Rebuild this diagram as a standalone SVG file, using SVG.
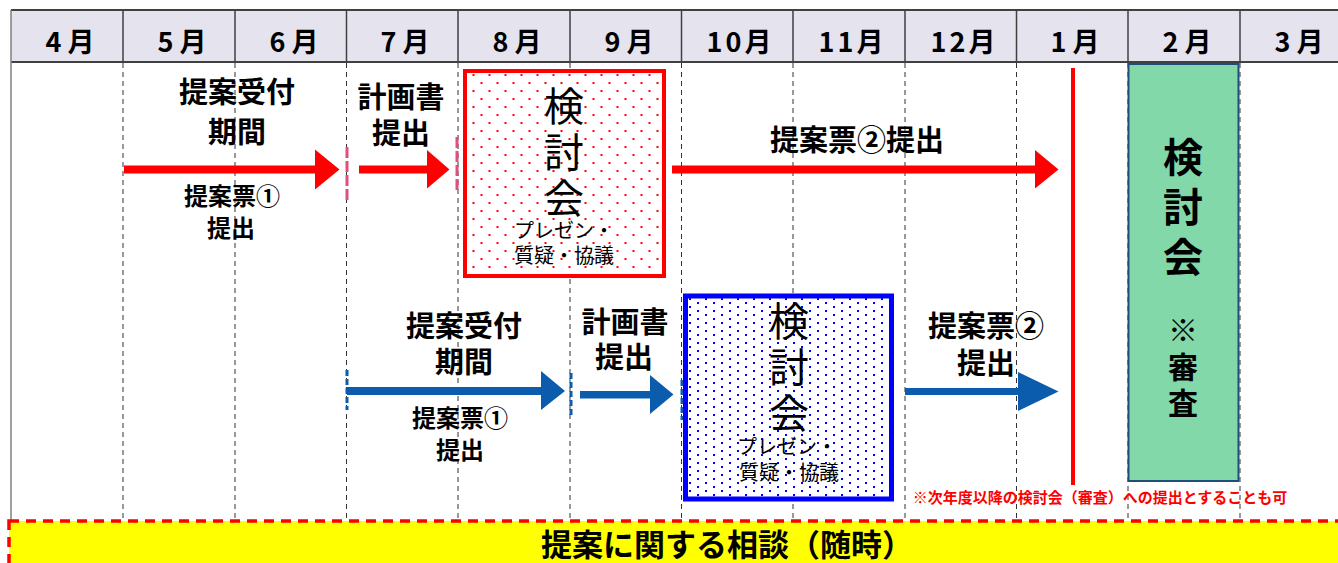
<svg xmlns="http://www.w3.org/2000/svg" width="1338" height="563" viewBox="0 0 1338 563">
<style>
text{font-family:"Noto Sans CJK JP","Noto Sans",sans-serif;text-anchor:middle;fill:#000}
.hd{font-size:27px;font-weight:700}
.lbl{font-size:29px;font-weight:700}
.sm{font-size:24px;font-weight:700}
.big{font-size:40px;font-weight:400;writing-mode:vertical-rl;letter-spacing:6px}
.sub{font-size:20px;font-weight:400}
.gr{font-size:40px;font-weight:700;writing-mode:vertical-rl;letter-spacing:10px}
.gr2{font-size:30px;font-weight:700;writing-mode:vertical-rl;letter-spacing:6.5px}
.grid{stroke:#333;stroke-width:1;stroke-dasharray:5 4;fill:none}
.hline{stroke:#404040;stroke-width:2;fill:none}
.red{fill:#FF0000}
.blue{fill:#0B5CAD}
</style>
<defs>
<pattern id="redDots" width="16" height="16" patternUnits="userSpaceOnUse"><rect x="0.5" y="2" width="2" height="2" fill="#FF0000"/><rect x="8.5" y="10" width="2" height="2" fill="#FF0000"/></pattern>
<pattern id="blueDots" width="16" height="8" patternUnits="userSpaceOnUse"><rect x="1" y="2" width="2" height="2" fill="#0000FF"/><rect x="9" y="6" width="2" height="2" fill="#0000FF"/></pattern>
</defs>

<g id="header">
<rect x="11" y="10" width="1327" height="52" fill="#E4E3EE"/>
<line class="hline" x1="11" y1="10" x2="1338" y2="10"/>
<line class="hline" x1="11" y1="62" x2="1338" y2="62"/>
<g stroke="#404040" stroke-width="1.5">
<line x1="123" y1="10" x2="123" y2="62"/><line x1="235" y1="10" x2="235" y2="62"/><line x1="346.5" y1="10" x2="346.5" y2="62"/><line x1="458" y1="10" x2="458" y2="62"/><line x1="570" y1="10" x2="570" y2="62"/><line x1="681.5" y1="10" x2="681.5" y2="62"/><line x1="793" y1="10" x2="793" y2="62"/><line x1="905" y1="10" x2="905" y2="62"/><line x1="1016.5" y1="10" x2="1016.5" y2="62"/><line x1="1128" y1="10" x2="1128" y2="62"/><line x1="1240" y1="10" x2="1240" y2="62"/>
</g>
<text class="hd" x="70" y="52">4<tspan dx="6">月</tspan></text>
<text class="hd" x="182" y="52">5<tspan dx="6">月</tspan></text>
<text class="hd" x="294" y="52">6<tspan dx="6">月</tspan></text>
<text class="hd" x="405" y="52">7<tspan dx="6">月</tspan></text>
<text class="hd" x="517" y="52">8<tspan dx="6">月</tspan></text>
<text class="hd" x="629" y="52">9<tspan dx="6">月</tspan></text>
<text class="hd" x="739" y="52">1<tspan dx="3">0</tspan><tspan dx="3">月</tspan></text>
<text class="hd" x="851" y="52">1<tspan dx="3">1</tspan><tspan dx="3">月</tspan></text>
<text class="hd" x="963" y="52">1<tspan dx="3">2</tspan><tspan dx="3">月</tspan></text>
<text class="hd" x="1075" y="52">1<tspan dx="6">月</tspan></text>
<text class="hd" x="1187" y="52">2<tspan dx="6">月</tspan></text>
<text class="hd" x="1299" y="52">3<tspan dx="6">月</tspan></text>
</g>

<g id="grid">
<line x1="11" y1="10" x2="11" y2="563" stroke="#808080" stroke-width="1.5"/>
<line class="grid" x1="123" y1="63" x2="123" y2="518"/>
<line class="grid" x1="235" y1="63" x2="235" y2="518"/>
<line class="grid" x1="346.5" y1="63" x2="346.5" y2="518"/>
<line class="grid" x1="458" y1="63" x2="458" y2="518"/>
<line class="grid" x1="570" y1="63" x2="570" y2="518"/>
<line class="grid" x1="681.5" y1="63" x2="681.5" y2="518"/>
<line class="grid" x1="793" y1="63" x2="793" y2="518"/>
<line class="grid" x1="905" y1="63" x2="905" y2="518"/>
<line class="grid" x1="1016.5" y1="63" x2="1016.5" y2="518"/>
<line class="grid" x1="1128" y1="63" x2="1128" y2="518"/>
<line class="grid" x1="1240" y1="63" x2="1240" y2="518"/>
</g>

<g id="connectors">
<path class="red" d="M124,165.5 H315 V149.5 L339.5,169.5 L315,189.5 V173.5 H124 Z"/>
<path class="red" d="M359,165.5 H427 V150 L449.5,169.5 L427,188.5 V173.5 H359 Z"/>
<path class="red" d="M672,165.5 H1035 V150 L1058.5,169.5 L1035,188.5 V173.5 H672 Z"/>
<line x1="347" y1="147" x2="347" y2="200" stroke="#E0507A" stroke-width="3" stroke-dasharray="11 3"/>
<line x1="457" y1="137" x2="457" y2="190" stroke="#E0507A" stroke-width="3" stroke-dasharray="11 3"/>
<path class="blue" d="M347,387 H541 V371 L565,391 L541,410 V395 H347 Z"/>
<path class="blue" d="M580,391 H650 V375 L673.5,394.5 L650,414 V398.5 H580 Z"/>
<path class="blue" d="M905,388 H1018 V372 L1058.5,391.5 L1018,411 V395 H905 Z"/>
<line x1="347" y1="370" x2="347" y2="410" stroke="#0B5CAD" stroke-width="3" stroke-dasharray="6 3"/>
<line x1="571" y1="373" x2="571" y2="415" stroke="#0B5CAD" stroke-width="3" stroke-dasharray="6 3"/>
<line x1="682" y1="380" x2="682" y2="420" stroke="#0B5CAD" stroke-width="3" stroke-dasharray="6 3"/>
<line x1="1073" y1="68" x2="1073" y2="485" stroke="#FF0000" stroke-width="4"/>
</g>

<g id="red-labels">
<text class="lbl" x="237" y="103">提案受付</text>
<text class="lbl" x="237" y="143">期間</text>
<text class="sm" x="232" y="205">提案票①</text>
<text class="sm" x="231" y="237">提出</text>
<text class="lbl" x="401" y="108">計画書</text>
<text class="lbl" x="401" y="144">提出</text>
<text class="lbl" x="857" y="151">提案票②提出</text>
</g>

<g id="red-meeting">
<rect x="465" y="71" width="199" height="205" fill="#FFFFFF" stroke="none"/>
<rect x="465" y="71" width="199" height="205" fill="url(#redDots)" stroke="#FF0000" stroke-width="4"/>
<text class="big" x="564" y="155">検討会</text>
<text class="sub"><tspan x="564" y="238">プレゼン・</tspan><tspan x="564" y="263">質疑・協議</tspan></text>
</g>

<g id="blue-labels">
<text class="lbl" x="464" y="337">提案受付</text>
<text class="lbl" x="464" y="373">期間</text>
<text class="sm" x="460" y="427">提案票①</text>
<text class="sm" x="460" y="459">提出</text>
<text class="lbl" x="625" y="333">計画書</text>
<text class="lbl" x="624" y="368">提出</text>
<text class="lbl" x="986" y="337">提案票②</text>
<text class="lbl" x="986" y="374">提出</text>
</g>

<g id="blue-meeting">
<rect x="685.5" y="296" width="206" height="203" fill="#FFFFFF" stroke="none"/>
<rect x="685.5" y="296" width="206" height="203" fill="url(#blueDots)" stroke="#0000FF" stroke-width="5"/>
<text class="big" x="789" y="369.5">検討会</text>
<text class="sub"><tspan x="787" y="454">プレゼン・</tspan><tspan x="789" y="480">質疑・協議</tspan></text>
</g>

<g id="review">
<rect x="1128.5" y="64" width="110" height="417" fill="#82D8A8" stroke="#1F4E79" stroke-width="2"/>
<text class="gr" x="1183" y="212">検討会</text>
<text class="gr2" x="1183" y="369.5">※審査</text>
</g>

<g id="note">
<text x="1100" y="503" style="font-size:15px;font-weight:700;fill:#FF0000">※次年度以降の検討会（審査）への提出とすることも可</text>
</g>

<g id="consult">
<rect x="9" y="521" width="1340" height="50" fill="#FFFF00" stroke="#FF0000" stroke-width="3.5" stroke-dasharray="10 7"/>
<text x="727" y="556" style="font-size:31px;font-weight:700">提案に関する相談（随時）</text>
</g>
</svg>
